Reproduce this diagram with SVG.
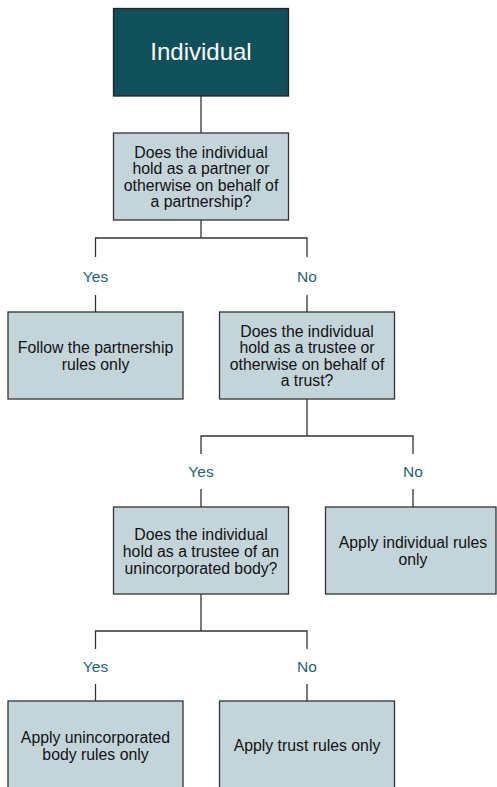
<svg xmlns="http://www.w3.org/2000/svg" width="497" height="787" viewBox="0 0 497 787">
<style>
.box{fill:#c4d5da;stroke:#333;stroke-width:1.3}
.top{fill:#0f505a;stroke:#222;stroke-width:1.3}
.t{font-family:"Liberation Sans",Arial,sans-serif;font-size:15.8px;fill:#111;text-anchor:middle}
.tt{font-family:"Liberation Sans",Arial,sans-serif;font-size:24px;fill:#fff;text-anchor:middle}
.lbl{font-family:"Liberation Sans",Arial,sans-serif;font-size:15.5px;fill:#1e6470;text-anchor:middle}
.c{fill:none;stroke:#333;stroke-width:1.3}
</style>
<rect width="497" height="787" fill="#fff"/>
<g id="connectors">
<path class="c" d="M201 96V133"/>
<path class="c" d="M201 220V238H95.5V257M95.5 295V312M201 238H307V257M307 295V312"/>
<path class="c" d="M307 399V436H201V454M201 489V507M307 436H413V454M413 489V507"/>
<path class="c" d="M201 594V631H95.5V649M95.5 684V701M201 631H307V649M307 684V701"/>
</g>
<g id="labels">
<text class="lbl" x="95.5" y="282">Yes</text>
<text class="lbl" x="307" y="282">No</text>
<text class="lbl" x="201" y="477">Yes</text>
<text class="lbl" x="413" y="477">No</text>
<text class="lbl" x="95.5" y="672">Yes</text>
<text class="lbl" x="307" y="672">No</text>
</g>
<g id="individual">
<rect class="top" x="113.5" y="8.5" width="175" height="87.5"/>
<text class="tt" x="201" y="60">Individual</text>
</g>
<g id="q1">
<rect class="box" x="113.5" y="133" width="175" height="87"/>
<text class="t" x="201" y="157.5">Does the individual</text>
<text class="t" x="201" y="174">hold as a partner or</text>
<text class="t" x="201" y="190.5">otherwise on behalf of</text>
<text class="t" x="201" y="207">a partnership?</text>
</g>
<g id="partnership">
<rect class="box" x="8" y="312" width="175" height="87"/>
<text class="t" x="95.5" y="352.5">Follow the partnership</text>
<text class="t" x="95.5" y="370">rules only</text>
</g>
<g id="q2">
<rect class="box" x="219.5" y="312" width="175" height="87"/>
<text class="t" x="307" y="336.5">Does the individual</text>
<text class="t" x="307" y="353">hold as a trustee or</text>
<text class="t" x="307" y="369.5">otherwise on behalf of</text>
<text class="t" x="307" y="386">a trust?</text>
</g>
<g id="q3">
<rect class="box" x="113.5" y="507" width="175" height="87"/>
<text class="t" x="201" y="540">Does the individual</text>
<text class="t" x="201" y="557">hold as a trustee of an</text>
<text class="t" x="201" y="574">unincorporated body?</text>
</g>
<g id="individualRules">
<rect class="box" x="325.5" y="507" width="170.5" height="87"/>
<text class="t" x="413" y="547.5">Apply individual rules</text>
<text class="t" x="413" y="565">only</text>
</g>
<g id="unincorporated">
<rect class="box" x="8" y="701" width="175" height="90"/>
<text class="t" x="95.5" y="742.5">Apply unincorporated</text>
<text class="t" x="95.5" y="760">body rules only</text>
</g>
<g id="trust">
<rect class="box" x="219.5" y="701" width="175" height="90"/>
<text class="t" x="307" y="750.5">Apply trust rules only</text>
</g>
</svg>
